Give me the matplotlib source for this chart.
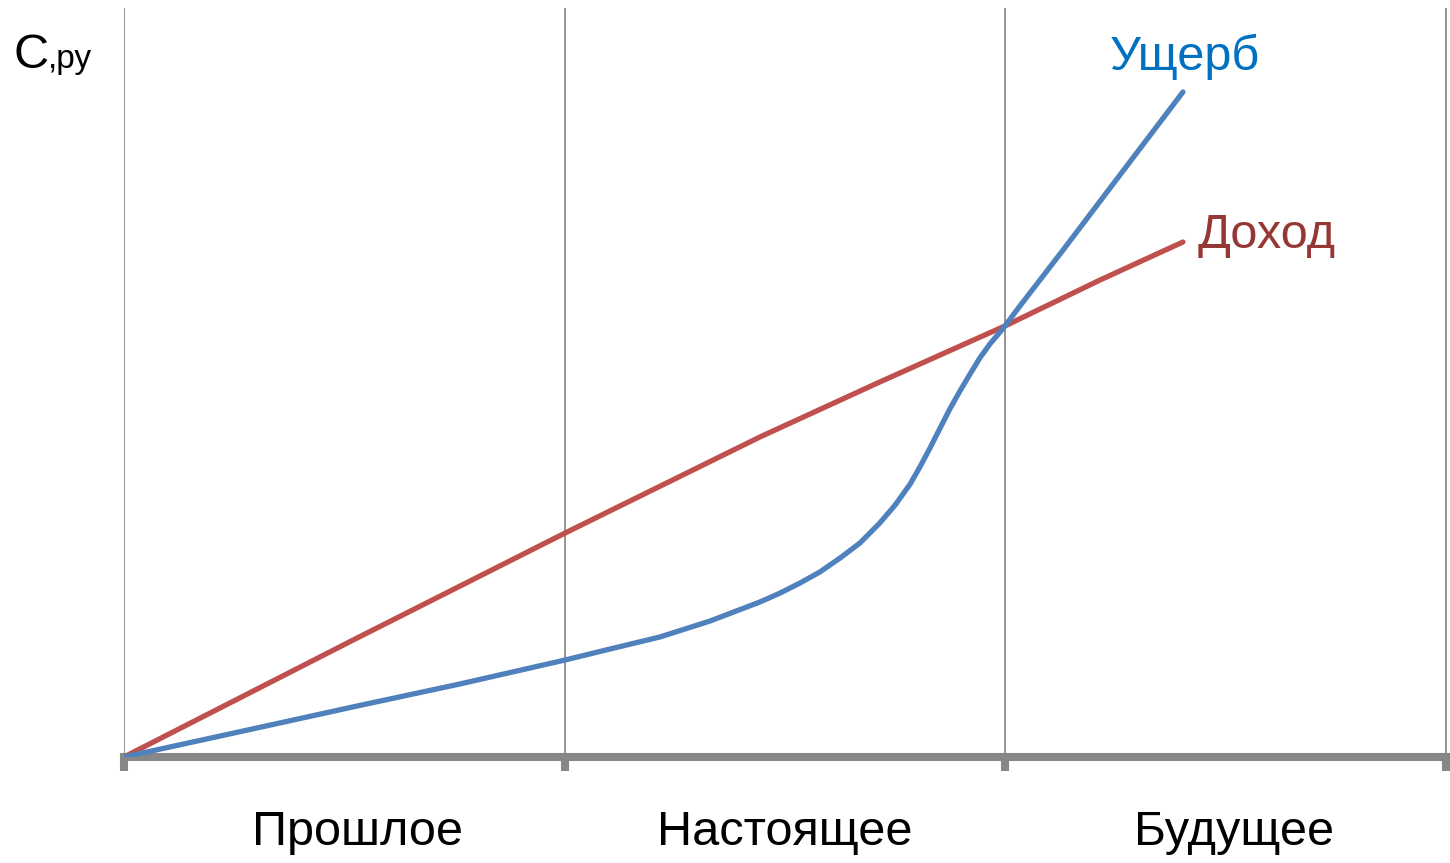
import matplotlib

matplotlib.use("Agg")
import matplotlib.pyplot as plt

plt.rcParams["font.family"] = ["Liberation Sans", "DejaVu Sans"]

# periods on the x axis (one unit per period)
PERIODS = ["Прошлое", "Настоящее", "Будущее"]
PERIOD_X = [0.53, 1.5, 2.52]
GRID_X = [0, 1, 2, 3]

DAMAGE_X = [0, 0.286, 0.529, 0.762, 1.001, 1.103, 1.216, 1.330, 1.443, 1.489,
            1.534, 1.579, 1.625, 1.670, 1.715, 1.750, 1.784, 1.806, 1.829, 1.852,
            1.874, 1.897, 1.920, 1.942, 1.965, 1.988, 1.999, 2.033, 2.131, 2.260,
            2.403]
DAMAGE_Y = [0, 0.275, 0.51, 0.73, 0.97, 1.08, 1.20, 1.36, 1.55, 1.64,
            1.74, 1.85, 1.99, 2.14, 2.34, 2.52, 2.73, 2.90, 3.09, 3.29,
            3.48, 3.66, 3.83, 3.99, 4.13, 4.25, 4.31, 4.51, 5.07, 5.82,
            6.65]

INCOME_X = [0, 0.529, 1.001, 1.443, 1.715, 1.999, 2.215, 2.403]
INCOME_Y = [0, 1.19, 2.24, 3.20, 3.75, 4.31, 4.77, 5.15]

W, H = 1450, 863
fig = plt.figure(figsize=(W / 100, H / 100), dpi=100)
ax = fig.add_axes([124 / W, 1 - 757 / H, (1450 - 124) / W, (757 - 8) / H])
ax.set_xlim(0, 3.009)
ax.set_ylim(0, 7.49)

grey = "#878787"
for gx in GRID_X:
    ax.axvline(gx, color="#8c8c8c", lw=1.3, zorder=1)

ax.plot(INCOME_X, INCOME_Y, color="#C0504D", lw=3.8, solid_capstyle="round",
        solid_joinstyle="round", zorder=3)
ax.plot(DAMAGE_X, DAMAGE_Y, color="#4F81BD", lw=3.8, solid_capstyle="round",
        solid_joinstyle="round", zorder=3)

for side in ["top", "right", "left"]:
    ax.spines[side].set_visible(False)
ax.spines["bottom"].set_color(grey)
ax.spines["bottom"].set_linewidth(5.8)
ax.spines["bottom"].set_zorder(2)
ax.set_xticks(GRID_X)
ax.set_xticklabels([])
ax.tick_params(axis="x", direction="out", length=10, width=5.8, color=grey)
ax.set_yticks([])

for lbl, px in zip(PERIODS, PERIOD_X):
    ax.text(px, -0.88, lbl, ha="center", va="baseline", fontsize=35, clip_on=False)

ax.text(2.237, 6.87, "Ущерб", color="#0070C0", fontsize=35, va="baseline", ha="left")
ax.text(2.437, 5.09, "Доход", color="#953735", fontsize=35, va="baseline", ha="left")

fig.text(13 / W, 1 - 68 / H, "С", fontsize=35, va="baseline", ha="left")
fig.text(48 / W, 1 - 68 / H, ",ру", fontsize=24, va="baseline", ha="left")

fig.savefig("out.png", dpi=100)
